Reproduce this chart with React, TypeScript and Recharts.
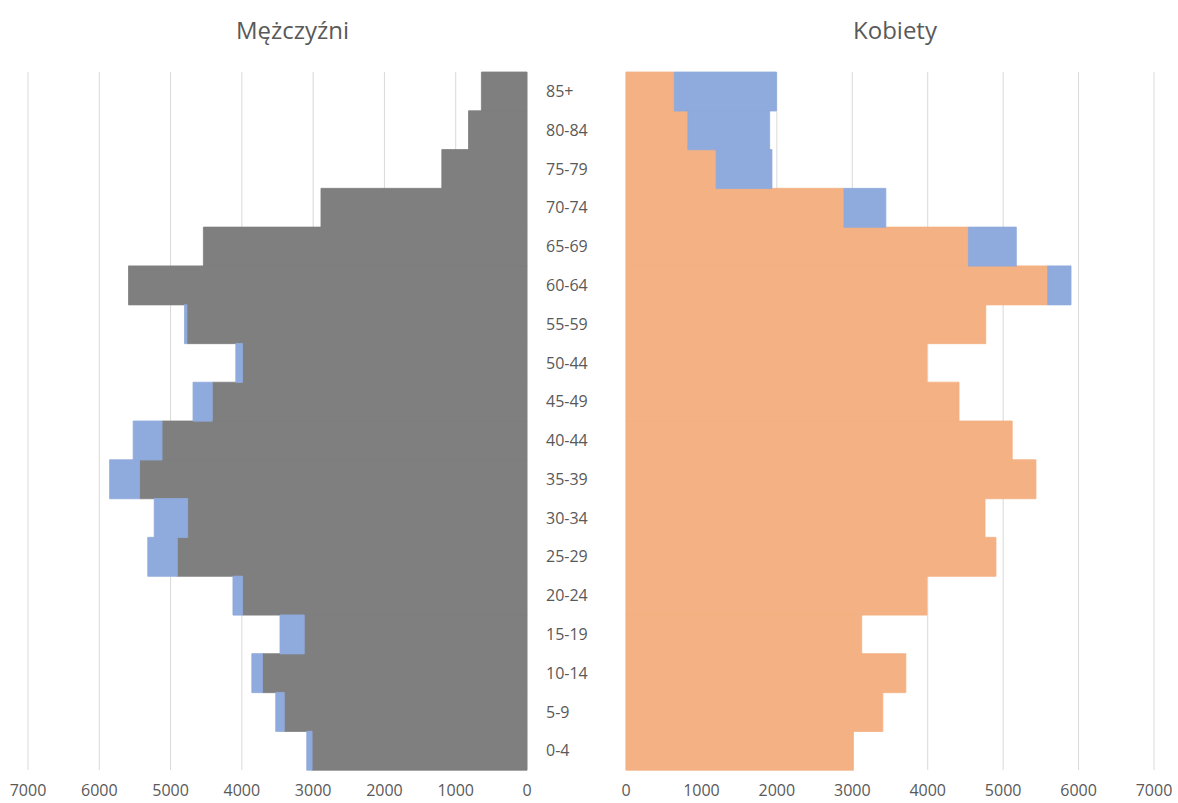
import React from "react";
import { BarChart, Bar, XAxis, YAxis, CartesianGrid } from "recharts";

// Age groups, bottom to top (label "50-44" kept as in the original)
const ageGroups = [
  "0-4", "5-9", "10-14", "15-19", "20-24", "25-29", "30-34", "35-39", "40-44",
  "45-49", "50-44", "55-59", "60-64", "65-69", "70-74", "75-79", "80-84", "85+",
];

// Totals
const menTotal = [
  3090, 3525, 3860, 3465, 4125, 5320, 5230, 5855, 5525,
  4685, 4085, 4805, 5590, 4540, 2890, 1195, 820, 640,
];
const womenTotal = [
  3015, 3405, 3710, 3125, 3990, 4905, 4760, 5435, 5120,
  4415, 3990, 4770, 5900, 5175, 3445, 1935, 1905, 1995,
];

const xTicks = [0, 1000, 2000, 3000, 4000, 5000, 6000, 7000];

// common part drawn in grey / orange, the surplus of one sex in blue
const rows = ageGroups.map((age, i) => {
  const shared = Math.min(menTotal[i], womenTotal[i]);
  return {
    age,
    shared,
    menExtra: menTotal[i] - shared,
    womenExtra: womenTotal[i] - shared,
  };
});

const FONT = "'Open Sans', 'Noto Sans', sans-serif";
const TEXT = "#595959";
const GREY = "#7f7f7f";
const ORANGE = "#f4b183";
const BLUE = "#8faadc";
const tickStyle = { fill: TEXT, fontSize: 16, fontFamily: FONT };

const titleStyle: React.CSSProperties = {
  position: "absolute",
  top: 12,
  fontFamily: FONT,
  fontSize: 24,
  color: TEXT,
  lineHeight: "36px",
};

export default function App() {
  return (
    <div
      style={{
        position: "absolute",
        left: 0,
        top: 0,
        width: 1178,
        height: 803,
        background: "#fff",
        overflow: "hidden",
      }}
    >
      <div style={{ ...titleStyle, left: 236 }}>Mężczyźni</div>
      <div style={{ ...titleStyle, left: 853 }}>Kobiety</div>

      {/* Men: reversed axis, age labels on the right side */}
      <div style={{ position: "absolute", left: 0, top: 0 }}>
        <BarChart
          layout="vertical"
          width={626}
          height={803}
          data={rows}
          margin={{ top: 72, right: 0, bottom: 0, left: 28 }}
          barCategoryGap={0}
        >
          <CartesianGrid horizontal={false} stroke="#d9d9d9" />
          <XAxis
            type="number"
            domain={[0, 7000]}
            ticks={xTicks}
            interval={0}
            reversed
            axisLine={false}
            tickLine={false}
            tickSize={13}
            height={33}
            tick={tickStyle}
          />
          <YAxis
            type="category"
            dataKey="age"
            orientation="right"
            reversed
            width={99}
            interval={0}
            axisLine={false}
            tickLine={false}
            tickSize={0}
            tickMargin={19}
            tick={{ ...tickStyle, textAnchor: "start" }}
          />
          <Bar dataKey="shared" stackId="m" fill={GREY} stroke={GREY} strokeWidth={0.8} isAnimationActive={false} />
          <Bar dataKey="menExtra" stackId="m" fill={BLUE} stroke={BLUE} strokeWidth={0.8} isAnimationActive={false} />
        </BarChart>
      </div>

      {/* Women: chart starts 20px earlier so the "0" tick fits */}
      <div style={{ position: "absolute", left: 606, top: 0 }}>
        <BarChart
          layout="vertical"
          width={572}
          height={803}
          data={rows}
          margin={{ top: 72, right: 24, bottom: 0, left: 20 }}
          barCategoryGap={0}
        >
          <CartesianGrid horizontal={false} stroke="#d9d9d9" />
          <XAxis
            type="number"
            domain={[0, 7000]}
            ticks={xTicks}
            interval={0}
            axisLine={false}
            tickLine={false}
            tickSize={13}
            height={33}
            tick={tickStyle}
          />
          <YAxis type="category" dataKey="age" reversed hide />
          <Bar dataKey="shared" stackId="w" fill={ORANGE} stroke={ORANGE} strokeWidth={0.8} isAnimationActive={false} />
          <Bar dataKey="womenExtra" stackId="w" fill={BLUE} stroke={BLUE} strokeWidth={0.8} isAnimationActive={false} />
        </BarChart>
      </div>
    </div>
  );
}
